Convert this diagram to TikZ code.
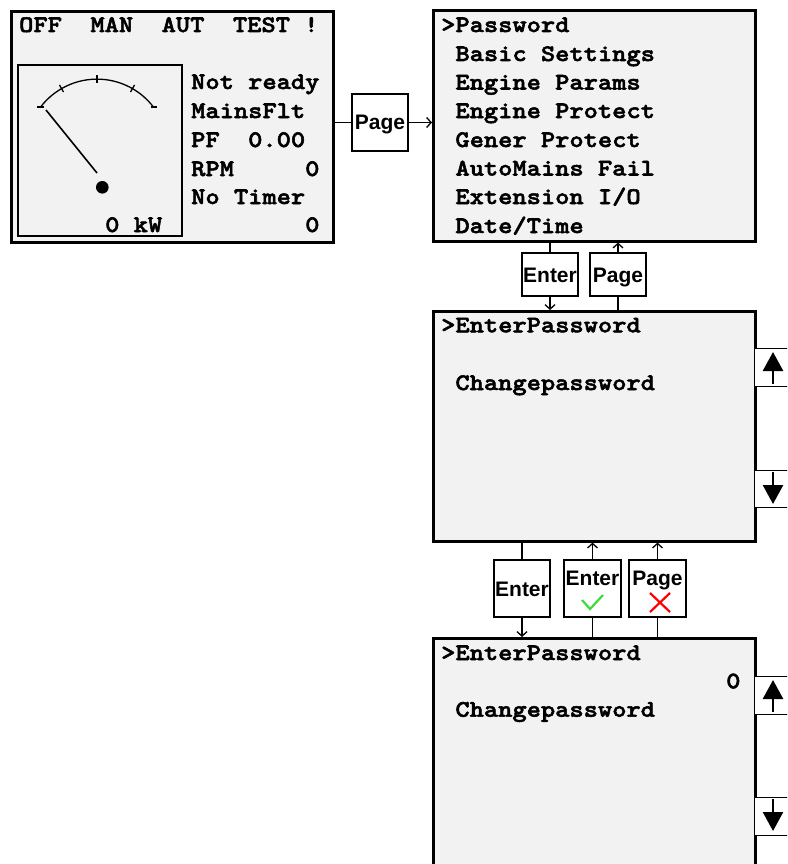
\documentclass[tikz,border=0pt]{standalone}
\usepackage{fontspec}
\newfontfamily\lcdfont{lmmonolt10-bold.otf}[FakeStretch=1.143,FakeBold=2.2]
\newfontfamily\keyfont{Liberation Sans}
\usetikzlibrary{arrows.meta}
\definecolor{scrfill}{HTML}{F2F2F2}
\definecolor{okgreen}{HTML}{3CDC3C}
\definecolor{nored}{HTML}{FF0000}
\begin{document}
\begin{tikzpicture}[x=1pt,y=-1pt,
  screen/.style={draw, line width=2.6pt, fill=scrfill, rectangle, anchor=north west, inner sep=0pt},
  keybox/.style={draw, line width=1.4pt, fill=white, rectangle, inner sep=0pt,
     font=\keyfont\bfseries\fontsize{21}{22}\selectfont, text height=15pt, text depth=0pt},
  keytxt/.style={anchor=base, inner sep=0pt, font=\keyfont\bfseries\fontsize{21}{22}\selectfont},
  sidekey/.style={draw, line width=1.4pt, fill=white, rectangle, anchor=north west, inner sep=0pt, minimum width=60pt},
  lcd/.style={anchor=base west, inner sep=0pt, font=\lcdfont\fontsize{23.75}{28}\selectfont},
  conn/.style={line width=1.3pt},
  tip/.style={conn, -{Straight Barb[length=4.5pt,width=10pt]}},
  bigarrow/.style={line width=2.6pt, -{Triangle[length=19pt,width=20pt]}},
  gauge/.style={line width=1.3pt}
]
\useasboundingbox (0,0) rectangle (787,864);
\clip (0,0) rectangle (787,864);

% ---------- screen 1 ----------
\node[screen, minimum width=322pt, minimum height=231pt] (s1) at (10,10) {};
\node[lcd] (t1a) at (19,32) {OFF~~MAN~~AUT~~TEST~!};
\node[lcd] (t1b) at (191,89) {Not~ready};
\node[lcd] (t1c) at (191,118) {MainsFlt};
\node[lcd] (t1d) at (191,147) {PF~~0.00};
\node[lcd] (t1e) at (191,176) {RPM~~~~~0};
\node[lcd] (t1f) at (191,204) {No~Timer};
\node[lcd] (t1g) at (191,232) {~~~~~~~~0};
% gauge
\draw[gauge] (18,65) rectangle (182,236);
\draw[gauge] (40.6,107) arc[start angle=-142.6, end angle=-37.4, radius=71];
\draw[gauge] (63.5,92) -- (59.5,85);
\draw[gauge] (97,83) -- (97,75);
\draw[gauge] (130.5,92) -- (134.5,85);
\draw[gauge] (37,107) -- (44,107);
\draw[gauge] (151,107) -- (157,107);
\draw[line width=1.6pt] (46,110) -- (97,173);
\fill (102.3,187.3) circle[radius=6.3];
\node[lcd] (t1h) at (105,232) {0~kW};

% ---------- screen 2 ----------
\node[screen, minimum width=322pt, minimum height=231pt] (s2) at (432,9) {};
\node[lcd] (t2a) at (441,32) {>Password};
\node[lcd] (t2b) at (441,61) {~Basic~Settings};
\node[lcd] (t2c) at (441,89.5) {~Engine~Params};
\node[lcd] (t2d) at (441,118) {~Engine~Protect};
\node[lcd] (t2e) at (441,147) {~Gener~Protect};
\node[lcd] (t2f) at (441,175.5) {~AutoMains~Fail};
\node[lcd] (t2g) at (441,204) {~Extension~I/O};
\node[lcd] (t2h) at (441,233) {~Date/Time};

% ---------- screen 3 ----------
\node[screen, minimum width=322pt, minimum height=230pt] (s3) at (432,310) {};
\node[lcd] (t3a) at (441,332.3) {>EnterPassword};
\node[lcd] (t3b) at (441,390) {~Changepassword};
\node[sidekey, minimum height=38pt] (u3) at (754,348) {};
\node[sidekey, minimum height=37pt] (d3) at (754,470) {};
\draw[bigarrow] (773,384) -- (773,352);
\draw[bigarrow] (773,472) -- (773,504);

% ---------- screen 4 ----------
\node[screen, minimum width=322pt, minimum height=260pt] (s4) at (432,637) {};
\node[lcd] (t4a) at (441,660) {>EnterPassword};
\node[lcd] (t4b) at (726,688.3) {0};
\node[lcd] (t4c) at (441,716.7) {~Changepassword};
\node[sidekey, minimum height=38pt] (u4) at (754,676) {};
\node[sidekey, minimum height=38pt] (d4) at (754,797) {};
\draw[bigarrow] (773,712) -- (773,680);
\draw[bigarrow] (773,799) -- (773,831);

% ---------- keys ----------
\node[keybox, minimum width=56pt, minimum height=57pt] (p1) at (380,122.5) {Page};
\node[keybox, minimum width=56pt, minimum height=43pt] (e1) at (550,274.5) {Enter};
\node[keybox, minimum width=56pt, minimum height=43pt] (g1) at (618,274.5) {Page};
\node[keybox, minimum width=56pt, minimum height=57pt] (e2) at (522,588.5) {Enter};
\node[keybox, minimum width=57pt, minimum height=57pt] (e3) at (592.5,588.5) {};
\node[keytxt] (e3t) at (592.5,585) {Enter};
\draw[okgreen, line width=2.2pt] (582,600) -- (590,609) -- (603,595);
\node[keybox, minimum width=57pt, minimum height=57pt] (g2) at (657.5,588.5) {};
\node[keytxt] (g2t) at (657.5,585) {Page};
\draw[nored, line width=2.2pt] (650,593) -- (670,612) (670,593) -- (650,612);

% ---------- connectors ----------
\draw[conn] (p1.west -| s1.east) -- (p1.west);
\draw[tip] (p1.east) -- (p1.east -| s2.west);

\draw[conn] (e1.north |- s2.south) -- (e1.north);
\draw[tip] (e1.south) -- (e1.south |- s3.north);
\draw[conn] (g1.south |- s3.north) -- (g1.south);
\draw[tip] (g1.north) -- (g1.north |- s2.south);

\draw[conn] (e2.north |- s3.south) -- (e2.north);
\draw[tip] (e2.south) -- (e2.south |- s4.north);
\draw[conn] (e3.south |- s4.north) -- (e3.south);
\draw[tip] (e3.north) -- (e3.north |- s3.south);
\draw[conn] (g2.south |- s4.north) -- (g2.south);
\draw[tip] (g2.north) -- (g2.north |- s3.south);
\end{tikzpicture}
\end{document}
